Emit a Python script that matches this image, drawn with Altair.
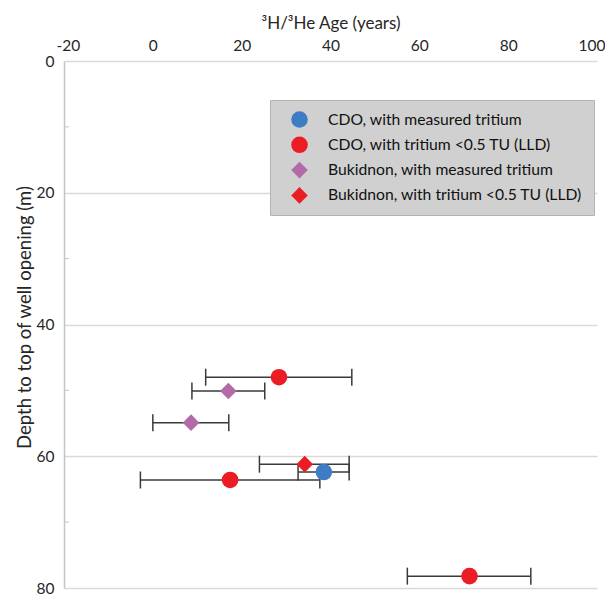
import altair as alt
import pandas as pd

# ---- data ----
series = [
    "CDO, with measured tritium",
    "CDO, with tritium <0.5 TU (LLD)",
    "CDO, with tritium <0.5 TU (LLD)",
    "CDO, with tritium <0.5 TU (LLD)",
    "Bukidnon, with measured tritium",
    "Bukidnon, with measured tritium",
    "Bukidnon, with tritium <0.5 TU (LLD)",
]
age = [38.5, 28.4, 17.4, 71.3, 17.0, 8.6, 34.2]
depth = [62.4, 48.0, 63.6, 78.2, 50.1, 54.9, 61.2]
age_lo = [32.7, 11.9, -2.8, 57.3, 8.8, 0.0, 24.0]
age_hi = [44.2, 44.8, 37.6, 85.1, 25.2, 17.1, 44.2]

legend_order = [
    "CDO, with measured tritium",
    "CDO, with tritium <0.5 TU (LLD)",
    "Bukidnon, with measured tritium",
    "Bukidnon, with tritium <0.5 TU (LLD)",
]
legend_colors = ["#3f7cc6", "#ec1c24", "#b26aa9", "#ec1c24"]
legend_shapes = ["circle", "circle", "diamond", "diamond"]

x_ticks = [-20, 0, 20, 40, 60, 80, 100]
y_ticks = [0, 20, 40, 60, 80]
y_minor = [10, 30, 50, 70]

df = pd.DataFrame({"series": series, "age": age, "depth": depth,
                   "lo": age_lo, "hi": age_hi})
minor_df = pd.DataFrame({"m": y_minor})

FONT = "Lato"
TXT = "#262626"
W, H = 533, 527

x_scale = alt.Scale(domain=[-20, 100], nice=False, zero=False)
y_scale = alt.Scale(domain=[0, 80], reverse=True, nice=False, zero=False)

x_axis = alt.Axis(
    orient="top", values=x_ticks, grid=False, domain=False, ticks=False,
    tickSize=0, labelPadding=11, labelBaseline="alphabetic", labelFontSize=15.5,
    labelFont=FONT, labelColor=TXT, labelExpr="'' + datum.value",
    labelFlush=True, labelFlushOffset=8, labelOverlap=False,
    title="³H/³He Age (years)", titleFont=FONT,
    titleFontSize=17, titleFontWeight="normal", titleColor=TXT,
    titleX=W / 2, titleY=-33, titleBaseline="alphabetic", titleAlign="center")
y_axis = alt.Axis(
    orient="left", values=y_ticks, grid=True, gridColor="#d9d9d9",
    gridWidth=1.5, domain=True, domainColor="#c4c4c4", domainWidth=1.5,
    ticks=False, tickSize=0, labelPadding=10, labelFontSize=15.5,
    labelFont=FONT, labelColor=TXT, labelFlush=False, labelOverlap=False,
    title="Depth to top of well opening (m)", titleFont=FONT,
    titleFontSize=18.5, titleFontWeight="normal", titleColor=TXT,
    titleAngle=270, titleX=-34, titleY=256, titleBaseline="alphabetic",
    titleAlign="center")

base = alt.Chart(df)

bars = base.mark_rule(color="#3a3a3a", strokeWidth=1.5).encode(
    x=alt.X("lo:Q", scale=x_scale, axis=x_axis),
    x2="hi:Q",
    y=alt.Y("depth:Q", scale=y_scale, axis=y_axis),
)

caps = base.transform_fold(["lo", "hi"], as_=["end", "xv"]).mark_tick(
    orient="vertical", size=17, thickness=1.5, color="#3a3a3a", opacity=1
).encode(
    x=alt.X("xv:Q", scale=x_scale, axis=x_axis),
    y=alt.Y("depth:Q", scale=y_scale, axis=y_axis),
)

minor = alt.Chart(minor_df).mark_rule(color="#c4c4c4", strokeWidth=1).encode(
    y=alt.Y("m:Q", scale=y_scale, axis=y_axis),
    x=alt.value(0), x2=alt.value(5),
)

points = base.mark_point(filled=True, opacity=1, strokeWidth=0, size=275).encode(
    x=alt.X("age:Q", scale=x_scale, axis=x_axis),
    y=alt.Y("depth:Q", scale=y_scale, axis=y_axis),
    color=alt.Color("series:N", scale=alt.Scale(domain=legend_order, range=legend_colors),
                    legend=alt.Legend(
                        title=None, orient="none", legendX=206, legendY=39,
                        fillColor="#d0d0d0", strokeColor="#b4b4b4", padding=11,
                        symbolOffset=10, labelOffset=20, rowPadding=8.3,
                        symbolSize=275, symbolStrokeWidth=0, symbolOpacity=1,
                        labelFont=FONT, labelFontSize=15.7, labelColor="#111111",
                        labelLimit=400)),
    shape=alt.Shape("series:N", scale=alt.Scale(domain=legend_order, range=legend_shapes)),
)

chart = alt.layer(bars, caps, minor, points).properties(
    width=W, height=H,
    autosize=alt.AutoSizeParams(type="none"),
    padding={"left": 56, "top": 53, "right": 8, "bottom": 10},
    background="white",
).configure_view(stroke=None)

chart.save("out.html", embed_options={"renderer": "svg", "actions": False})
